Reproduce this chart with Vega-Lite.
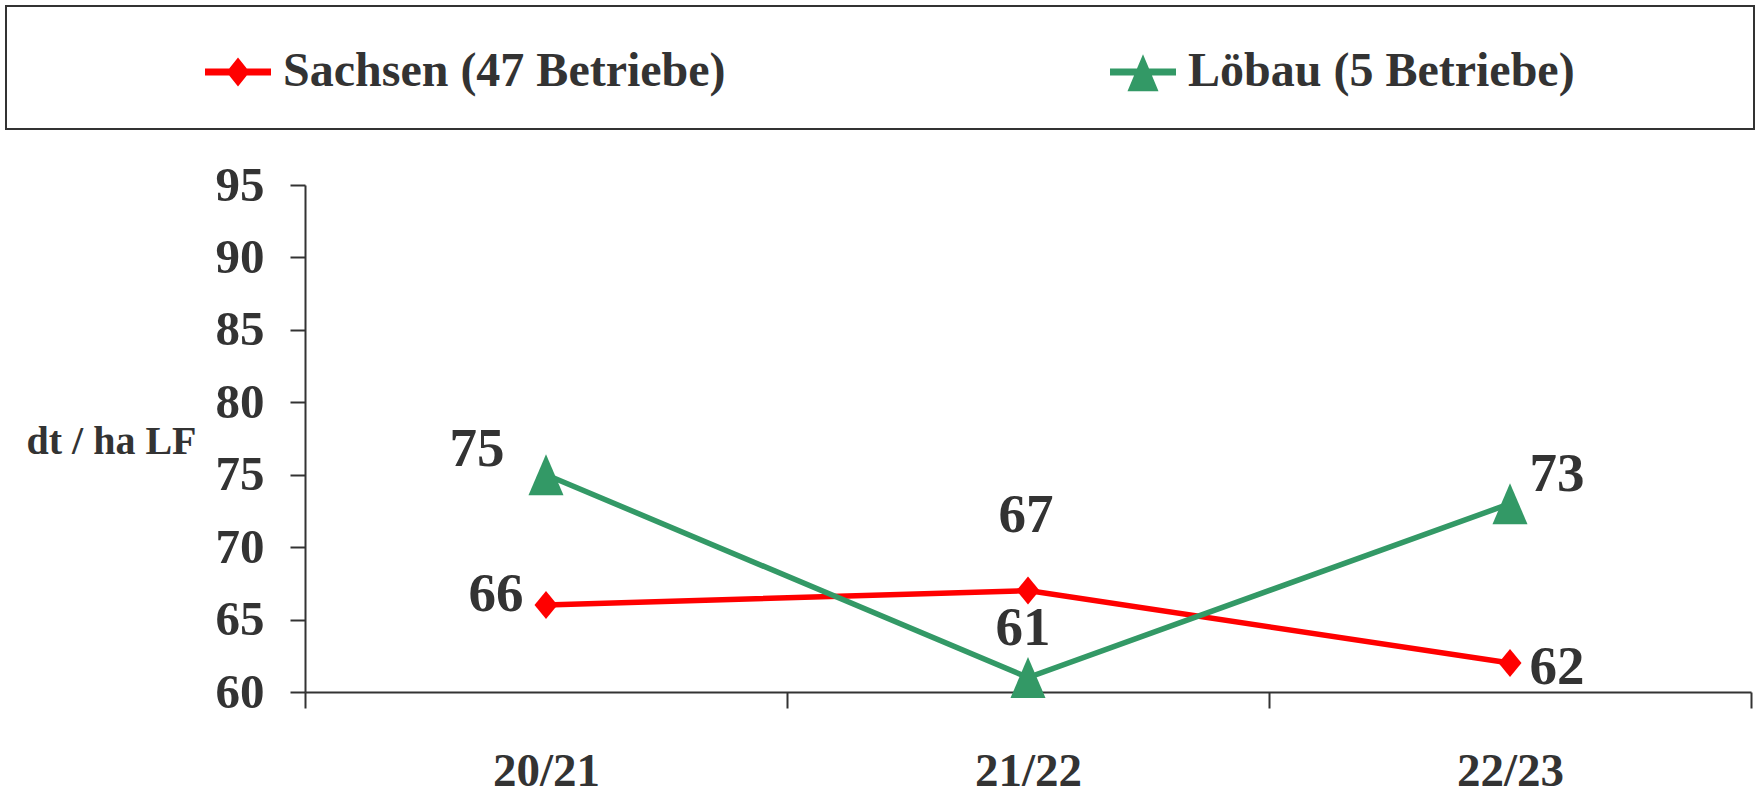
{
  "$schema": "https://vega.github.io/schema/vega-lite/v6.json",
  "width": 1446,
  "height": 507,
  "autosize": {"type": "none"},
  "padding": {"left": 305, "top": 185, "right": 7, "bottom": 104},
  "background": "white",
  "config": {
    "view": {"stroke": null},
    "font": "Liberation Serif",
    "legend": {"strokeWidth": 2}
  },
  "data": {
    "values": [
      {"year": "20/21", "series": "Sachsen (47 Betriebe)", "value": 66},
      {"year": "21/22", "series": "Sachsen (47 Betriebe)", "value": 67},
      {"year": "22/23", "series": "Sachsen (47 Betriebe)", "value": 62},
      {"year": "20/21", "series": "Löbau (5 Betriebe)", "value": 75},
      {"year": "21/22", "series": "Löbau (5 Betriebe)", "value": 61},
      {"year": "22/23", "series": "Löbau (5 Betriebe)", "value": 73}
    ]
  },
  "encoding": {
    "x": {
      "field": "year",
      "type": "ordinal",
      "scale": {"type": "band", "paddingInner": 0, "paddingOuter": 0},
      "axis": {
        "title": null,
        "tickBand": "extent",
        "labelAngle": 0,
        "domainColor": "#333333",
        "domainWidth": 2,
        "tickColor": "#333333",
        "tickWidth": 2,
        "tickSize": 16,
        "labelFont": "Liberation Serif",
        "labelFontWeight": "bold",
        "labelFontSize": 47,
        "labelColor": "#333333",
        "labelPadding": 40,
        "grid": false
      }
    },
    "y": {
      "field": "value",
      "type": "quantitative",
      "scale": {"domain": [60, 95], "nice": false, "zero": false},
      "axis": {
        "values": [60, 65, 70, 75, 80, 85, 90, 95],
        "grid": false,
        "domainColor": "#333333",
        "domainWidth": 2,
        "tickColor": "#333333",
        "tickWidth": 2,
        "tickSize": 15,
        "labelFont": "Liberation Serif",
        "labelFontWeight": "bold",
        "labelFontSize": 49,
        "labelColor": "#333333",
        "labelPadding": 26,
        "title": "dt / ha LF",
        "titleAngle": 0,
        "titleX": -194,
        "titleY": 268,
        "titleAlign": "center",
        "titleBaseline": "alphabetic",
        "titleFont": "Liberation Serif",
        "titleFontWeight": "bold",
        "titleFontSize": 40,
        "titleColor": "#333333"
      }
    }
  },
  "layer": [
    {
      "transform": [{"filter": "false"}],
      "mark": {"type": "point", "filled": true, "opacity": 1},
      "encoding": {
        "color": {
          "field": "series",
          "type": "nominal",
          "scale": {"domain": ["Sachsen (47 Betriebe)", "Löbau (5 Betriebe)"], "range": ["#ff0000", "#339966"]},
          "legend": {
            "title": null,
            "orient": "none",
            "legendX": -299,
            "legendY": -179,
            "direction": "horizontal",
            "columns": 2,
            "padding": 33,
            "strokeColor": "#333333",
            "fillColor": "#ffffff",
            "labelFont": "Liberation Serif",
            "labelFontWeight": "bold",
            "labelFontSize": 48,
            "labelColor": "#333333",
            "labelLimit": 2000,
            "symbolSize": 4356,
            "symbolStrokeWidth": 0,
            "symbolOpacity": 1,
            "symbolOffset": 166,
            "labelOffset": 12,
            "columnPadding": 218
          }
        },
        "shape": {
          "field": "series",
          "type": "nominal",
          "scale": {
            "domain": ["Sachsen (47 Betriebe)", "Löbau (5 Betriebe)"],
            "range": [
              "M-1,-0.106H-0.266L0,-0.44L0.266,-0.106H1V0.106H0.266L0,0.44L-0.266,0.106H-1Z",
              "M-1,-0.106H-0.182L0,-0.54L0.182,-0.106H1V0.106H0.271L0.47,0.58H-0.47L-0.271,0.106H-1Z M17.5,0L17.5,0"
            ]
          },
          "legend": {
            "title": null,
            "orient": "none",
            "legendX": -299,
            "legendY": -179,
            "direction": "horizontal",
            "columns": 2,
            "padding": 33,
            "strokeColor": "#333333",
            "fillColor": "#ffffff",
            "labelFont": "Liberation Serif",
            "labelFontWeight": "bold",
            "labelFontSize": 48,
            "labelColor": "#333333",
            "labelLimit": 2000,
            "symbolSize": 4356,
            "symbolStrokeWidth": 0,
            "symbolOpacity": 1,
            "symbolOffset": 166,
            "labelOffset": 12,
            "columnPadding": 218
          }
        }
      }
    },
    {
      "mark": {"type": "line", "strokeWidth": 5.5},
      "encoding": {
        "color": {"field": "series", "type": "nominal"}
      }
    },
    {
      "transform": [{"filter": {"field": "series", "equal": "Sachsen (47 Betriebe)"}}],
      "mark": {"type": "point", "filled": true, "size": 1681, "opacity": 1, "strokeWidth": 0, "shape": "M0,-0.683L0.561,0L0,0.683L-0.561,0Z"},
      "encoding": {
        "color": {"field": "series", "type": "nominal"}
      }
    },
    {
      "transform": [{"filter": {"field": "series", "equal": "Löbau (5 Betriebe)"}}],
      "mark": {"type": "point", "filled": true, "size": 1681, "opacity": 1, "strokeWidth": 0, "shape": "M0,-1L0.854,1L-0.854,1Z"},
      "encoding": {
        "color": {"field": "series", "type": "nominal"}
      }
    },
    {
      "transform": [{"filter": {"and": [{"field": "series", "equal": "Sachsen (47 Betriebe)"}, {"field": "year", "equal": "20/21"}]}}],
      "mark": {"type": "text", "dx": -50, "dy": -11, "align": "center", "baseline": "middle", "font": "Liberation Serif", "fontWeight": "bold", "fontSize": 55, "color": "#333333"},
      "encoding": {"text": {"field": "value", "type": "quantitative"}}
    },
    {
      "transform": [{"filter": {"and": [{"field": "series", "equal": "Sachsen (47 Betriebe)"}, {"field": "year", "equal": "21/22"}]}}],
      "mark": {"type": "text", "dx": -2, "dy": -76, "align": "center", "baseline": "middle", "font": "Liberation Serif", "fontWeight": "bold", "fontSize": 55, "color": "#333333"},
      "encoding": {"text": {"field": "value", "type": "quantitative"}}
    },
    {
      "transform": [{"filter": {"and": [{"field": "series", "equal": "Sachsen (47 Betriebe)"}, {"field": "year", "equal": "22/23"}]}}],
      "mark": {"type": "text", "dx": 47, "dy": 4, "align": "center", "baseline": "middle", "font": "Liberation Serif", "fontWeight": "bold", "fontSize": 55, "color": "#333333"},
      "encoding": {"text": {"field": "value", "type": "quantitative"}}
    },
    {
      "transform": [{"filter": {"and": [{"field": "series", "equal": "Löbau (5 Betriebe)"}, {"field": "year", "equal": "20/21"}]}}],
      "mark": {"type": "text", "dx": -69, "dy": -26, "align": "center", "baseline": "middle", "font": "Liberation Serif", "fontWeight": "bold", "fontSize": 55, "color": "#333333"},
      "encoding": {"text": {"field": "value", "type": "quantitative"}}
    },
    {
      "transform": [{"filter": {"and": [{"field": "series", "equal": "Löbau (5 Betriebe)"}, {"field": "year", "equal": "21/22"}]}}],
      "mark": {"type": "text", "dx": -5, "dy": -50, "align": "center", "baseline": "middle", "font": "Liberation Serif", "fontWeight": "bold", "fontSize": 55, "color": "#333333"},
      "encoding": {"text": {"field": "value", "type": "quantitative"}}
    },
    {
      "transform": [{"filter": {"and": [{"field": "series", "equal": "Löbau (5 Betriebe)"}, {"field": "year", "equal": "22/23"}]}}],
      "mark": {"type": "text", "dx": 47, "dy": -30, "align": "center", "baseline": "middle", "font": "Liberation Serif", "fontWeight": "bold", "fontSize": 55, "color": "#333333"},
      "encoding": {"text": {"field": "value", "type": "quantitative"}}
    }
  ]
}
